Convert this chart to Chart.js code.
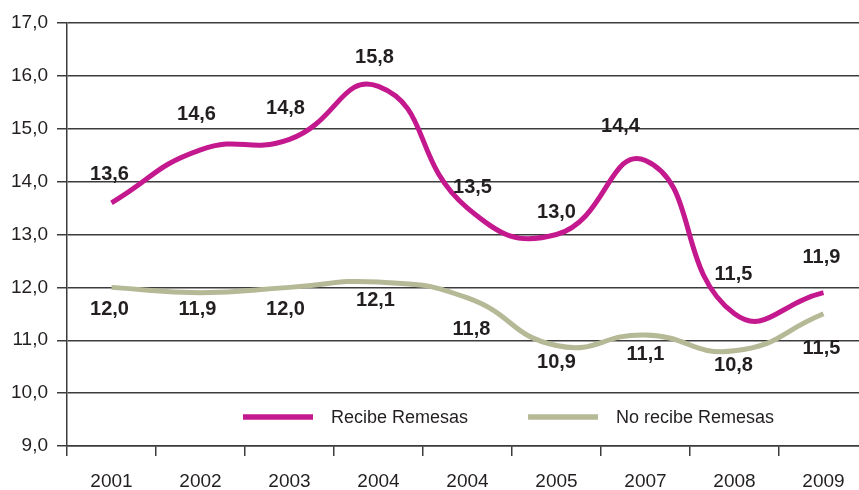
<!DOCTYPE html>
<html lang="es">
<head>
<meta charset="utf-8">
<title>Recibe / No recibe Remesas</title>
<script src="https://cdn.jsdelivr.net/npm/chart.js@4/dist/chart.umd.min.js"></script>
<style>
  html, body { margin: 0; padding: 0; background: #ffffff; overflow: hidden; }
  #wrap { position: relative; width: 868px; height: 490px; }
</style>
</head>
<body>
<div id="wrap"><canvas id="chart"></canvas></div>
<script>
// Categories (años) and the two series
const years = ['2001', '2002', '2003', '2004', '2004', '2005', '2007', '2008', '2009'];
const recibeRemesas = [13.6, 14.6, 14.8, 15.8, 13.5, 13.0, 14.4, 11.5, 11.9];
const noRecibeRemesas = [12.0, 11.9, 12.0, 12.1, 11.8, 10.9, 11.1, 10.8, 11.5];
const seriesNames = ['Recibe Remesas', 'No recibe Remesas'];
const yTicks = [9, 10, 11, 12, 13, 14, 15, 16, 17];

const MAGENTA = '#C4198E';
const OLIVE = '#B5B995';
const GRID = '#3c3c3c';
const FONT = '"Liberation Sans", Arial, sans-serif';

// Placement of the value labels relative to each point (dx, dy in px)
const labelNudge = [
  [[-2, -28], [-4, -35], [-4, -31], [-4, -29], [5, -21], [0, -22], [-25, -34], [-1, -39], [-2, -35]],
  [[-2, 22], [-3, 17], [-4, 22], [-3, 18], [4, 32], [0, 17], [0, 20], [-1, 15], [-2, 35]]
];

const fmt = v => v.toFixed(1).replace('.', ',');

// Value labels drawn next to every point
const valueLabels = {
  id: 'valueLabels',
  afterDatasetsDraw(chart) {
    const ctx = chart.ctx;
    ctx.save();
    ctx.font = 'bold 20px ' + FONT;
    ctx.fillStyle = '#231f20';
    ctx.textAlign = 'center';
    ctx.textBaseline = 'middle';
    chart.data.datasets.forEach((ds, di) => {
      const meta = chart.getDatasetMeta(di);
      meta.data.forEach((pt, i) => {
        const n = labelNudge[di][i];
        ctx.fillText(fmt(ds.data[i]), pt.x + n[0], pt.y + n[1]);
      });
    });
    ctx.restore();
  }
};

// Legend laid out inside the plot area, in the band between 9,0 and 10,0
const innerLegend = {
  id: 'innerLegend',
  afterDraw(chart, args, opts) {
    const ctx = chart.ctx;
    const area = chart.chartArea;
    const y = chart.scales.y.getPixelForValue(opts.value);
    let x = area.left + opts.offsetX;
    ctx.save();
    ctx.font = '18px ' + FONT;
    ctx.textBaseline = 'middle';
    ctx.textAlign = 'left';
    chart.data.datasets.forEach((ds, i) => {
      ctx.strokeStyle = ds.borderColor;
      ctx.lineWidth = 5.5;
      ctx.lineCap = 'butt';
      ctx.beginPath();
      ctx.moveTo(x, y);
      ctx.lineTo(x + opts.lineLength, y);
      ctx.stroke();
      x += opts.lineLength + opts.textGap;
      ctx.fillStyle = '#231f20';
      ctx.fillText(ds.label, x, y + 1);
      x += ctx.measureText(ds.label).width + opts.itemGap;
    });
    ctx.restore();
  }
};

new Chart(document.getElementById('chart'), {
  type: 'line',
  data: {
    labels: years,
    datasets: [
      {
        label: seriesNames[0],
        data: recibeRemesas,
        borderColor: MAGENTA,
        backgroundColor: MAGENTA,
        borderWidth: 5,
        tension: 0.5,
        pointRadius: 0,
        fill: false
      },
      {
        label: seriesNames[1],
        data: noRecibeRemesas,
        borderColor: OLIVE,
        backgroundColor: OLIVE,
        borderWidth: 5,
        tension: 0.5,
        pointRadius: 0,
        fill: false
      }
    ]
  },
  options: {
    responsive: true,
    maintainAspectRatio: false,
    animation: false,
    layout: { padding: { top: 23, right: 0, bottom: 0, left: 0 } },
    plugins: {
      legend: { display: false },
      tooltip: { enabled: false },
      innerLegend: { value: 9.55, offsetX: 176, lineLength: 70, textGap: 18, itemGap: 60 }
    },
    scales: {
      x: {
        type: 'category',
        offset: true,
        grid: {
          offset: true,
          drawOnChartArea: false,
          drawTicks: true,
          tickLength: 10,
          color: GRID,
          lineWidth: 1.5
        },
        border: { display: true, color: GRID, width: 1.5 },
        ticks: {
          color: '#231f20',
          font: { family: FONT, size: 19 },
          padding: 14,
          maxRotation: 0,
          autoSkip: false
        },
        afterFit(scale) { scale.height = 44; }
      },
      y: {
        min: 9,
        max: 17,
        afterBuildTicks(scale) { scale.ticks = yTicks.map(v => ({ value: v })); },
        grid: {
          color: GRID,
          lineWidth: 1.5,
          drawTicks: true,
          tickLength: 10
        },
        border: { display: true, color: GRID, width: 1.5 },
        ticks: {
          color: '#231f20',
          font: { family: FONT, size: 19 },
          padding: 9,
          callback: v => fmt(v)
        },
        afterFit(scale) { scale.width = 67; }
      }
    }
  },
  plugins: [valueLabels, innerLegend]
});
</script>
</body>
</html>
